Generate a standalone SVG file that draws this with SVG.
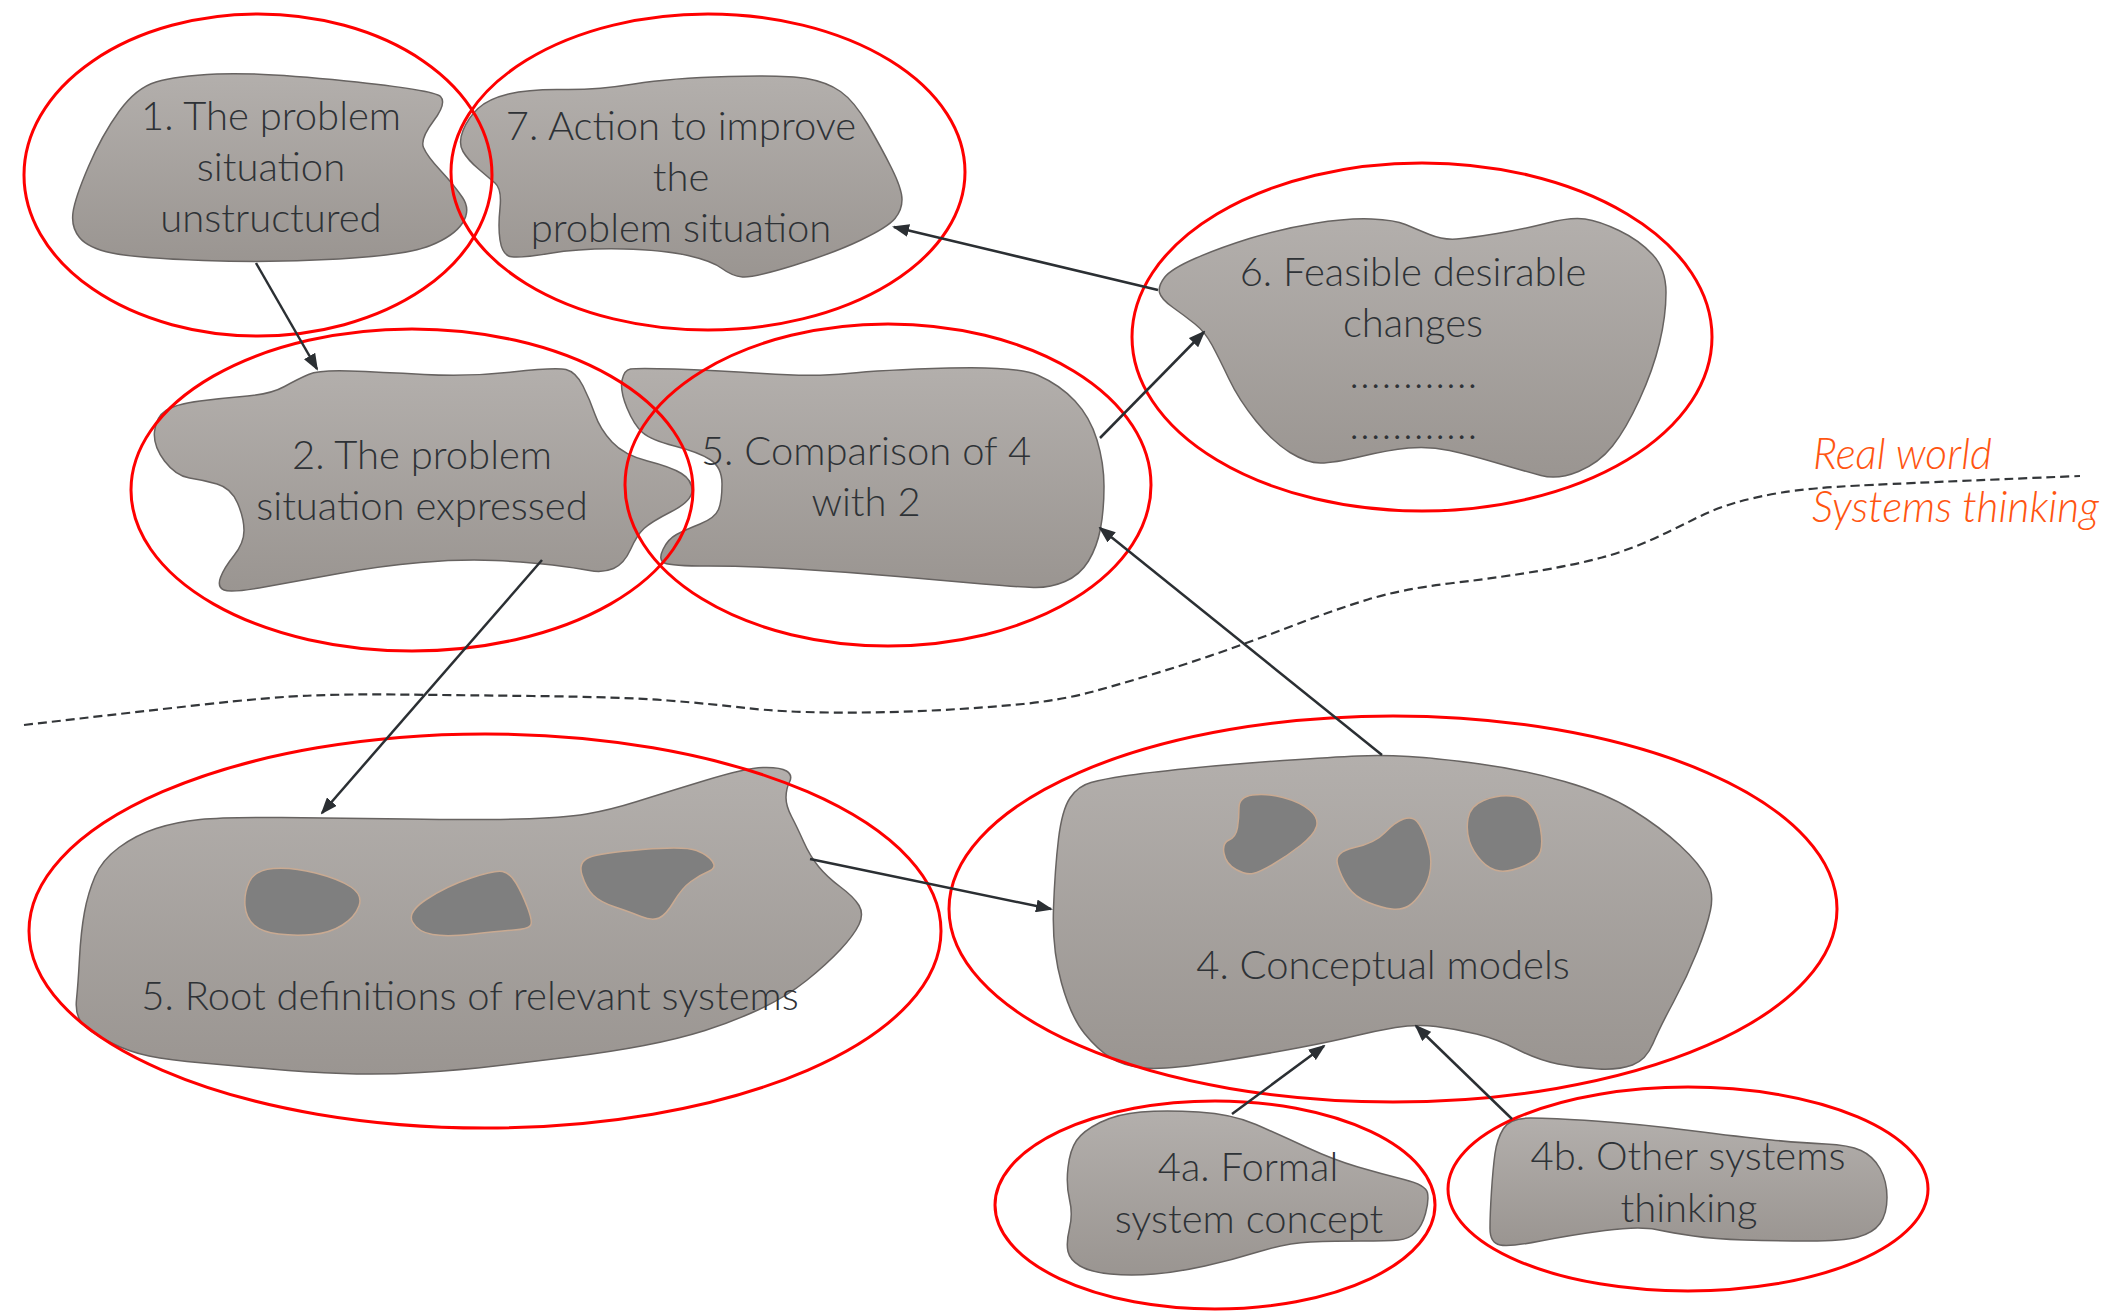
<svg xmlns="http://www.w3.org/2000/svg" width="2126" height="1313" viewBox="0 0 2126 1313">
  <defs>
    <linearGradient id="stone" x1="0" y1="0" x2="0" y2="1">
      <stop offset="0" stop-color="#b3afac"/>
      <stop offset="1" stop-color="#9a9591"/>
    </linearGradient>
    <marker id="arrow" markerUnits="userSpaceOnUse" markerWidth="17" markerHeight="13" refX="15" refY="6.5" orient="auto">
      <path d="M0,0 L17,6.5 L0,13 Z" fill="#2b2f33"/>
    </marker>
    <style>
      .blob { fill: url(#stone); stroke: #676361; stroke-width: 1.5; }
      .hole { fill: #7f7f7f; stroke: #c9aa92; stroke-width: 1.5; }
      .scope { fill: none; stroke: #ff0000; stroke-width: 3; }
      .label { font-family: Lato, "Liberation Sans", sans-serif; font-weight: 300; font-size: 40px; fill: #2e3236; text-anchor: middle; }
      .dots { letter-spacing: 1.4px; }
      .zone { font-family: Lato, "Liberation Sans", sans-serif; font-weight: 300; font-style: italic; font-size: 42.5px; fill: #ff5511; }
      .link { fill: none; stroke: #2b2f33; stroke-width: 2.5; marker-end: url(#arrow); }
      .divide { fill: none; stroke: #333639; stroke-width: 2.2; stroke-dasharray: 9 5; }
    </style>
  </defs>

  <rect width="2126" height="1313" fill="#ffffff"/>

  <!-- boundary between real world and systems thinking -->
  <path class="divide" d="M24,725 L80,718.5 Q136,712 203.5,704.5 Q271,697 312,695.5 Q353,694 397,694.5 Q441,695 532.5,696 Q624,697 668,700.5 Q712,704 746,708 Q780,712 830.5,712.5 Q881,713 932,710.5 Q983,708 1023,704 Q1063,700 1097,690.5 Q1131,681 1165,670.5 Q1199,660 1232.5,648 Q1266,636 1300,623 Q1334,610 1368,599.5 Q1402,589 1453,583 Q1504,577 1541,570.5 Q1578,564 1602,557.5 Q1626,551 1649.5,540.5 Q1673,530 1693.5,519.5 Q1714,509 1734.5,503 Q1755,497 1782,492.5 Q1809,488 1859.5,485.5 Q1910,483 2080,476"/>
  <text class="zone" x="1813" y="469">Real world</text>
  <text class="zone" x="1812" y="522">Systems thinking</text>

  <g id="node-1">
    <path class="blob" d="M217,74 Q258,72 346,81 Q434,90 440.5,96.5 Q447,103 433.5,121 Q420,139 423.5,147.5 Q427,156 440.5,170.5 Q454,185 462.5,197.5 Q471,210 462.5,223 Q454,236 430.5,245.5 Q407,255 339,259 Q271,263 203.5,260.5 Q136,258 112,253 Q88,248 79.5,237.5 Q71,227 73,212.5 Q75,198 88.5,166.5 Q102,135 119,111.5 Q136,88 156,82 Q176,76 217,74 Z"/>
    <text class="label" x="271" y="130">1. The problem</text>
    <text class="label" x="271" y="181">situation</text>
    <text class="label" x="271" y="232">unstructured</text>
  </g>

  <g id="node-7">
    <path class="blob" d="M508.5,94 Q529,89 563,89.5 Q597,90 634,84 Q671,78 728.5,76.5 Q786,75 806.5,78.5 Q827,82 840.5,91.5 Q854,101 867.5,124 Q881,147 891.5,168 Q902,189 902,199.5 Q902,210 895,218.5 Q888,227 861,240 Q834,253 793.5,265.5 Q753,278 742.5,277 Q732,276 722,268.5 Q712,261 688,255.5 Q664,250 623.5,249 Q583,248 549,253.5 Q515,259 508.5,256 Q502,253 500,240 Q498,227 500,208 Q502,189 495,183 Q488,177 478,168.5 Q468,160 463,151.5 Q458,143 463,130.5 Q468,118 478,108.5 Q488,99 508.5,94 Z"/>
    <text class="label" x="681" y="140">7. Action to improve</text>
    <text class="label" x="681" y="191">the</text>
    <text class="label" x="681" y="242">problem situation</text>
  </g>

  <g id="node-2">
    <path class="blob" d="M349.5,371 Q380,372 424,374.5 Q468,377 512,372 Q556,367 566,369.5 Q576,372 583,386 Q590,400 595,414.5 Q600,429 612,442 Q624,455 647.5,461 Q671,467 681.5,473.5 Q692,480 692,490.5 Q692,501 671.5,511.5 Q651,522 644,528.5 Q637,535 630.5,549.5 Q624,564 613.5,568.5 Q603,573 589.5,570.5 Q576,568 552.5,565 Q529,562 495,560.5 Q461,559 420.5,562.5 Q380,566 339,573.5 Q298,581 264.5,587 Q231,593 224,590 Q217,587 220.5,577.5 Q224,568 234,555.5 Q244,543 244,530.5 Q244,518 237.5,503 Q231,488 217,484 Q203,480 189.5,478 Q176,476 164.5,461 Q153,446 154.5,431.5 Q156,417 166,410.5 Q176,404 200,401 Q224,398 247.5,396 Q271,394 284.5,386.5 Q298,379 308.5,374.5 Q319,370 349.5,371 Z"/>
    <text class="label" x="422" y="469">2. The problem</text>
    <text class="label" x="422" y="520">situation expressed</text>
  </g>

  <g id="node-5-comparison">
    <path class="blob" d="M674.5,369 Q712,370 763,373.5 Q814,377 847.5,373.5 Q881,370 949,368 Q1017,366 1038.5,375.5 Q1060,385 1075,401 Q1090,417 1097,440 Q1104,463 1104,486.5 Q1104,510 1100.5,528.5 Q1097,547 1088.5,561 Q1080,575 1065,581.5 Q1050,588 1033.5,587.5 Q1017,587 983,584 Q949,581 898,576.5 Q847,572 796.5,569 Q746,566 708.5,566 Q671,566 664.5,563 Q658,560 663,549.5 Q668,539 676.5,534.5 Q685,530 700,524 Q715,518 718.5,509.5 Q722,501 722,484 Q722,467 710,459.5 Q698,452 674.5,446 Q651,440 642.5,432.5 Q634,425 627,408 Q620,391 622,380.5 Q624,370 630.5,369 Q637,368 674.5,369 Z"/>
    <text class="label" x="866" y="465">5. Comparison of 4</text>
    <text class="label" x="866" y="516">with 2</text>
  </g>

  <g id="node-6">
    <path class="blob" d="M1164.5,277.5 Q1171,269 1195,258.5 Q1219,248 1249.5,238.5 Q1280,229 1314,223.5 Q1348,218 1371.5,219 Q1395,220 1405.5,224.5 Q1416,229 1429.5,234.5 Q1443,240 1456.5,239 Q1470,238 1497,233.5 Q1524,229 1547.5,223 Q1571,217 1585,219 Q1599,221 1619,230.5 Q1639,240 1652.5,254.5 Q1666,269 1666,292.5 Q1666,316 1659.5,343 Q1653,370 1639.5,399.5 Q1626,429 1612.5,446 Q1599,463 1578.5,471.5 Q1558,480 1541,475.5 Q1524,471 1497,463 Q1470,455 1449.5,450.5 Q1429,446 1408.5,448 Q1388,450 1361,456.5 Q1334,463 1320.5,463 Q1307,463 1290,452.5 Q1273,442 1256,421 Q1239,400 1229,379 Q1219,358 1212,345 Q1205,332 1195,324 Q1185,316 1173,307.5 Q1161,299 1159.5,292.5 Q1158,286 1164.5,277.5 Z"/>
    <text class="label" x="1413" y="286">6. Feasible desirable</text>
    <text class="label" x="1413" y="337">changes</text>
    <text class="label dots" x="1414" y="388">............</text>
    <text class="label dots" x="1414" y="439">............</text>
  </g>

  <g id="node-5-root-definitions">
    <path class="blob" d="M119,847.5 Q136,835 156,828.5 Q176,822 200,819.5 Q224,817 281.5,817.5 Q339,818 407,819 Q475,820 519,819 Q563,818 586.5,814 Q610,810 637,801.5 Q664,793 705,780.5 Q746,768 763,767.5 Q780,767 786.5,771 Q793,775 789.5,782 Q786,789 786,797.5 Q786,806 791.5,816.5 Q797,827 803.5,841.5 Q810,856 818.5,866.5 Q827,877 840.5,887 Q854,897 859,905.5 Q864,914 859,924.5 Q854,935 840.5,949.5 Q827,964 806.5,980.5 Q786,997 759,1009.5 Q732,1022 705,1030.5 Q678,1039 644,1045.5 Q610,1052 569.5,1057 Q529,1062 495,1066 Q461,1070 420.5,1072.5 Q380,1075 342.5,1073.5 Q305,1072 271,1069 Q237,1066 203,1063 Q169,1060 149,1056 Q129,1052 108.5,1041.5 Q88,1031 81.5,1022.5 Q75,1014 76.5,999.5 Q78,985 79.5,958 Q81,931 84.5,912 Q88,893 95,876.5 Q102,860 119,847.5 Z"/>
    <path class="hole" d="M273.5,868.5 Q292,867 315.5,873 Q339,879 351,887 Q363,895 359,906 Q355,917 342.5,925 Q330,933 312.5,934.5 Q295,936 278.5,934 Q262,932 254,925 Q246,918 245,905.5 Q244,893 249.5,881.5 Q255,870 273.5,868.5 Z"/>
    <path class="hole" d="M427,899 Q447,886 471,878 Q495,870 502.5,871.5 Q510,873 516,883 Q522,893 527.5,907.5 Q533,922 530.5,925.5 Q528,929 514,930 Q500,931 473.5,934 Q447,937 432.5,934.5 Q418,932 412.5,922 Q407,912 427,899 Z"/>
    <path class="hole" d="M589,857.5 Q600,853 642.5,849.5 Q685,846 696.5,850.5 Q708,855 712.5,861.5 Q717,868 708.5,871.5 Q700,875 691,881.5 Q682,888 674,901.5 Q666,915 659,918 Q652,921 641,916.5 Q630,912 615,907 Q600,902 593,895 Q586,888 582,875 Q578,862 589,857.5 Z"/>
    <text class="label" x="470" y="1010">5. Root definitions of relevant systems</text>
  </g>

  <g id="node-4">
    <path class="blob" d="M1091,782.5 Q1104,779 1124,776 Q1144,773 1188,768.5 Q1232,764 1283,760.5 Q1334,757 1358,756 Q1382,755 1409,756.5 Q1436,758 1480,764 Q1524,770 1564.5,781.5 Q1605,793 1632.5,810 Q1660,827 1680,845.5 Q1700,864 1707,878.5 Q1714,893 1710.5,910 Q1707,927 1697,952 Q1687,977 1673.5,1002 Q1660,1027 1653,1043.5 Q1646,1060 1632.5,1065 Q1619,1070 1598.5,1069 Q1578,1068 1558,1064 Q1538,1060 1517.5,1049.5 Q1497,1039 1476.5,1034 Q1456,1029 1436,1026.5 Q1416,1024 1395.5,1027.5 Q1375,1031 1354.5,1036 Q1334,1041 1300,1047.5 Q1266,1054 1215.5,1062 Q1165,1070 1144.5,1068 Q1124,1066 1111,1058 Q1098,1050 1084.5,1033.5 Q1071,1017 1061.5,983 Q1052,949 1053.5,908.5 Q1055,868 1058.5,839 Q1062,810 1070,798 Q1078,786 1091,782.5 Z"/>
    <path class="hole" d="M1252.5,795 Q1266,793 1283,797.5 Q1300,802 1309.5,810 Q1319,818 1316.5,826.5 Q1314,835 1300.5,845.5 Q1287,856 1273.5,864 Q1260,872 1253,873.5 Q1246,875 1236,869.5 Q1226,864 1224,853.5 Q1222,843 1229,840 Q1236,837 1237.5,827.5 Q1239,818 1239,807.5 Q1239,797 1252.5,795 Z"/>
    <path class="hole" d="M1354.5,847.5 Q1375,843 1385,832.5 Q1395,822 1403.5,819 Q1412,816 1417,821.5 Q1422,827 1427,841.5 Q1432,856 1430.5,868.5 Q1429,881 1422,891.5 Q1415,902 1408.5,906 Q1402,910 1392,909 Q1382,908 1368.5,902.5 Q1355,897 1348,887 Q1341,877 1337.5,864.5 Q1334,852 1354.5,847.5 Z"/>
    <path class="hole" d="M1483.5,800.5 Q1497,795 1510.5,796 Q1524,797 1531,805.5 Q1538,814 1540.5,828.5 Q1543,843 1540.5,851.5 Q1538,860 1524,866 Q1510,872 1500,871 Q1490,870 1481.5,861 Q1473,852 1469.5,841.5 Q1466,831 1468,818.5 Q1470,806 1483.5,800.5 Z"/>
    <text class="label" x="1383" y="979">4. Conceptual models</text>
  </g>

  <g id="node-4a">
    <path class="blob" d="M1141,1112 Q1165,1110 1198.5,1112 Q1232,1114 1256,1124.5 Q1280,1135 1307,1147.5 Q1334,1160 1358,1167 Q1382,1174 1404,1179.5 Q1426,1185 1427.5,1193 Q1429,1201 1425.5,1213.5 Q1422,1226 1415.5,1232.5 Q1409,1239 1398.5,1240 Q1388,1241 1361,1241 Q1334,1241 1310.5,1242 Q1287,1243 1259.5,1251.5 Q1232,1260 1205,1266 Q1178,1272 1154.5,1274 Q1131,1276 1110.5,1274 Q1090,1272 1080,1266 Q1070,1260 1068,1251.5 Q1066,1243 1069.5,1228.5 Q1073,1214 1069.5,1199.5 Q1066,1185 1068,1167.5 Q1070,1150 1076.5,1140.5 Q1083,1131 1100,1122.5 Q1117,1114 1141,1112 Z"/>
    <text class="label" x="1248" y="1181">4a. Formal</text>
    <text class="label" x="1249" y="1233">system concept</text>
  </g>

  <g id="node-4b">
    <path class="blob" d="M1530.5,1118 Q1551,1118 1595,1121 Q1639,1124 1690,1130.5 Q1741,1137 1771.5,1140 Q1802,1143 1825.5,1144 Q1849,1145 1861,1150.5 Q1873,1156 1880,1168.5 Q1887,1181 1887,1197.5 Q1887,1214 1880,1223.5 Q1873,1233 1858,1237 Q1843,1241 1809,1241 Q1775,1241 1744.5,1240 Q1714,1239 1693.5,1236 Q1673,1233 1656,1229.5 Q1639,1226 1605,1230.5 Q1571,1235 1540.5,1241 Q1510,1247 1500,1245 Q1490,1243 1490,1228.5 Q1490,1214 1491.5,1191 Q1493,1168 1495,1153.5 Q1497,1139 1503.5,1128.5 Q1510,1118 1530.5,1118 Z"/>
    <text class="label" x="1688" y="1170">4b. Other systems</text>
    <text class="label" x="1689" y="1222">thinking</text>
  </g>

  <!-- red scope rings around each stage -->
  <g id="scopes">
    <ellipse class="scope" cx="258" cy="175" rx="234" ry="161"/>
    <ellipse class="scope" cx="708" cy="172" rx="257" ry="158"/>
    <ellipse class="scope" cx="412" cy="490" rx="281" ry="161"/>
    <ellipse class="scope" cx="888" cy="485" rx="263" ry="161"/>
    <ellipse class="scope" cx="1422" cy="337" rx="290" ry="174"/>
    <ellipse class="scope" cx="485" cy="931" rx="456" ry="197"/>
    <ellipse class="scope" cx="1393" cy="909" rx="444" ry="193"/>
    <ellipse class="scope" cx="1215" cy="1205" rx="220" ry="104"/>
    <ellipse class="scope" cx="1688" cy="1189" rx="240" ry="102"/>
  </g>

  <g id="connectors">
    <path class="link" d="M256,263 L317,369"/>
    <path class="link" d="M542,560 L322,813"/>
    <path class="link" d="M810,859 L1051,909"/>
    <path class="link" d="M1382,755 L1100,528"/>
    <path class="link" d="M1100,438 L1204,332"/>
    <path class="link" d="M1158,290 L894,227"/>
    <path class="link" d="M1232,1114 L1324,1046"/>
    <path class="link" d="M1512,1119 L1416,1026"/>
  </g>
</svg>
